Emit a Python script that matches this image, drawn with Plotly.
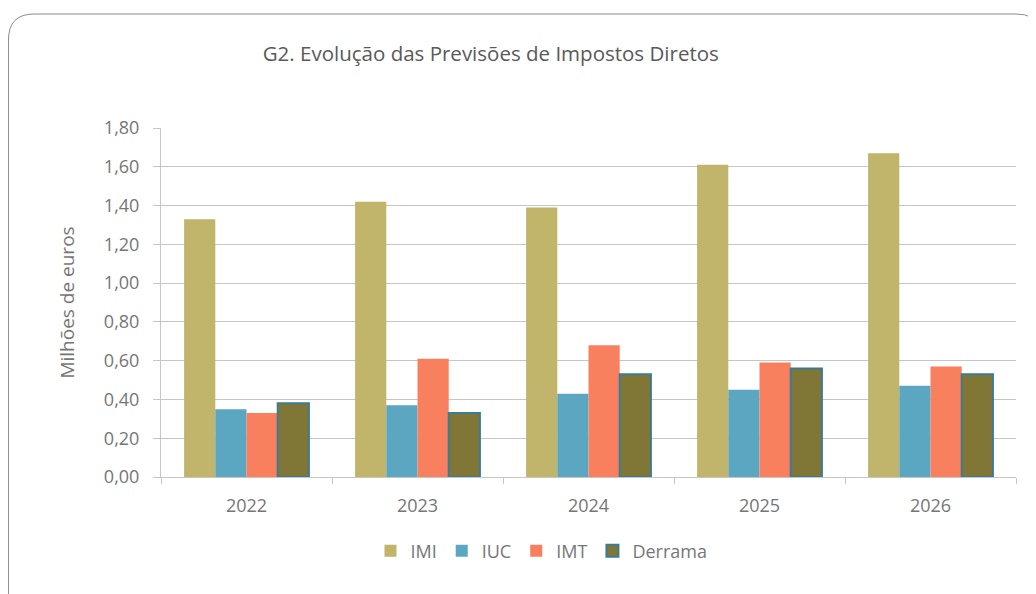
import plotly.graph_objects as go

anos = ["2022", "2023", "2024", "2025", "2026"]
imi = [1.33, 1.42, 1.39, 1.61, 1.67]
iuc = [0.35, 0.37, 0.43, 0.45, 0.47]
imt = [0.33, 0.61, 0.68, 0.59, 0.57]
derrama = [0.38, 0.33, 0.53, 0.56, 0.53]

GREY_TXT = "#767676"
TITLE_TXT = "#595959"
GRID = "#c6c6c6"
FONT = "'Open Sans', sans-serif"

series = [
    ("IMI", imi, "#c1b56b", "#c1b56b", 0),
    ("IUC", iuc, "#5ba6c1", "#5ba6c1", 0),
    ("IMT", imt, "#f9805e", "#f9805e", 0),
    ("Derrama", derrama, "#807636", "#3c7b97", 2),
]

fig = go.Figure()
for name, vals, col, edge, w in series:
    fig.add_trace(
        go.Bar(
            x=anos,
            y=vals,
            name=name,
            marker=dict(color=col, line=dict(color=edge, width=w)),
        )
    )

# rounded outer frame (chart area border), paper coords of the plot area
frame = (
    "M -0.1784,-0.40 L -0.1784,1.2521 "
    "Q -0.1784,1.3266 -0.1485,1.3266 "
    "L 1.000,1.3266 Q 1.0234,1.3266 1.0234,1.290 "
)
fig.add_shape(
    type="path",
    xref="paper",
    yref="paper",
    path=frame,
    line=dict(color="#8c8c8c", width=1),
    layer="below",
)

fig.update_layout(
    width=1036,
    height=594,
    paper_bgcolor="white",
    plot_bgcolor="white",
    separators=",.",
    barmode="group",
    bargap=0.27,
    bargroupgap=0,
    margin=dict(l=153, r=28, t=120, b=125),
    font=dict(family=FONT, color=GREY_TXT, size=18),
    title=dict(
        text="G2. Evolução das Previsões de Impostos Diretos",
        x=0.466,
        xanchor="center",
        y=0.923,
        yanchor="middle",
        font=dict(family=FONT, size=20.5, color=TITLE_TXT),
    ),
    legend=dict(
        orientation="h",
        x=0.445,
        xanchor="center",
        y=-0.212,
        yanchor="middle",
        font=dict(size=18, color=GREY_TXT),
        itemwidth=30,
        traceorder="normal",
    ),
    showlegend=True,
)

fig.update_yaxes(
    range=[0, 1.8],
    dtick=0.2,
    tickformat=".2f",
    showgrid=True,
    gridcolor=GRID,
    gridwidth=1,
    showline=True,
    linecolor=GRID,
    linewidth=1,
    ticks="outside",
    ticklen=7,
    tickcolor=GRID,
    ticklabelstandoff=10,
    zeroline=False,
    title=dict(text="Milhões de euros", standoff=24, font=dict(size=19, color=GREY_TXT)),
)
fig.update_xaxes(
    showline=True,
    linecolor=GRID,
    linewidth=1,
    ticks="outside",
    tickson="boundaries",
    ticklen=6,
    tickcolor=GRID,
    ticklabelstandoff=12,
    showgrid=False,
)

fig.write_html("out.html")
